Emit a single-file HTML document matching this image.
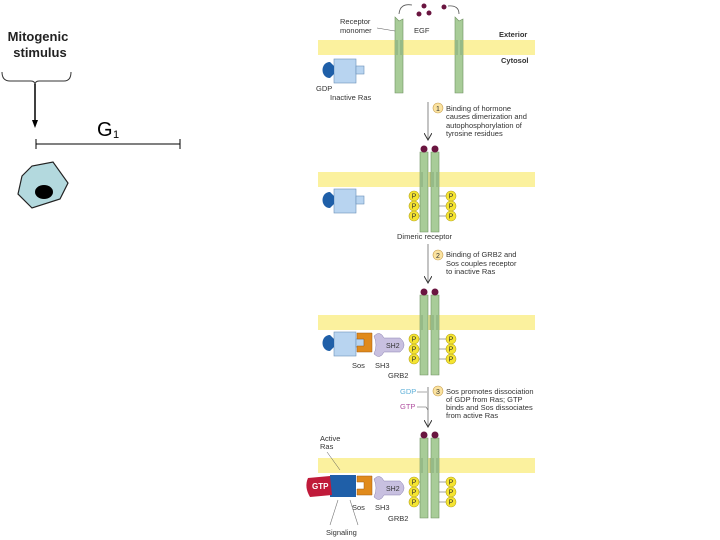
<!DOCTYPE html>
<html><head><meta charset="utf-8"><style>
body{margin:0;background:#fff;width:720px;height:540px;overflow:hidden}
svg{display:block}
text{font-family:"Liberation Sans",sans-serif}
</style></head><body>
<svg width="720" height="540" viewBox="0 0 720 540" xmlns="http://www.w3.org/2000/svg">
<defs>
<marker id="ah" markerWidth="8" markerHeight="8" refX="7" refY="4" orient="auto" markerUnits="userSpaceOnUse"><path d="M0,0 L7,4 L0,8" fill="none" stroke="#333" stroke-width="1"/></marker>
<g id="P"><circle r="5" fill="#f5e431" stroke="#b8a820" stroke-width="0.6"/><text y="2.5" font-size="7" text-anchor="middle" fill="#333">P</text></g>
<g id="dimer">
  <path d="M-8,-20 L-8,60 L0,60 L0,-20 Z M3,-20 L3,60 L11,60 L11,-20 Z" fill="#a8cc98" stroke="#6e9060" stroke-width="0.6"/>
  <path d="M-6,0 L-6,15 M2,0 L2,15 M5,0 L5,15 M9,0 L9,15" stroke="#6e9060" stroke-width="0.6"/>
  <circle cx="-4" cy="-23" r="3.5" fill="#6a1540"/><circle cx="7" cy="-23" r="3.5" fill="#6a1540"/>
  <line x1="-16" y1="24" x2="-8" y2="24" stroke="#666" stroke-width="0.6"/><line x1="-16" y1="34" x2="-8" y2="34" stroke="#666" stroke-width="0.6"/><line x1="-16" y1="44" x2="-8" y2="44" stroke="#666" stroke-width="0.6"/>
  <line x1="11" y1="24" x2="19" y2="24" stroke="#666" stroke-width="0.6"/><line x1="11" y1="34" x2="19" y2="34" stroke="#666" stroke-width="0.6"/><line x1="11" y1="44" x2="19" y2="44" stroke="#666" stroke-width="0.6"/>
  <use href="#P" x="-14" y="24"/><use href="#P" x="-14" y="34"/><use href="#P" x="-14" y="44"/>
  <use href="#P" x="23" y="24"/><use href="#P" x="23" y="34"/><use href="#P" x="23" y="44"/>
</g>
<g id="ras"><rect x="8" y="-7" width="22" height="24" fill="#b8d4f0" stroke="#6b8fb8" stroke-width="0.6"/><rect x="30" y="0" width="8" height="8" fill="#b8d4f0" stroke="#6b8fb8" stroke-width="0.6"/><path d="M4,-4 C-6,-4 -6,12 4,12 L8,8 L8,0 Z" fill="#1f5fa8"/></g>
</defs>

<text x="38" y="41" font-size="13" text-anchor="middle" font-weight="bold" fill="#222">Mitogenic</text>
<text x="40" y="57" font-size="13" text-anchor="middle" font-weight="bold" fill="#222">stimulus</text>
<path d="M2,72 Q2,81 10,81 L31,81 Q35,81 35,85 Q35,81 39,81 L64,81 Q71,81 71,72" fill="none" stroke="#333" stroke-width="1"/>
<line x1="35" y1="84" x2="35" y2="122" stroke="#000" stroke-width="1.5"/>
<path d="M32,120 L35,128 L38,120 Z" fill="#000"/>
<text x="97" y="136" font-size="20" fill="#000">G</text><text x="113" y="138" font-size="11" fill="#000">1</text>
<line x1="36" y1="144" x2="180" y2="144" stroke="#000" stroke-width="1"/>
<line x1="36" y1="139" x2="36" y2="149" stroke="#000"/><line x1="180" y1="139" x2="180" y2="149" stroke="#000"/>
<path d="M22,176 L32,166 L53,162 L68,183 L60,199 L32,208 L18,194 Z" fill="#b3d9de" stroke="#222" stroke-width="1.2"/>
<ellipse cx="44" cy="192" rx="9" ry="7" fill="#000"/>

<rect x="318" y="40" width="217" height="15" fill="#fbf19e"/>
<rect x="318" y="172" width="217" height="15" fill="#fbf19e"/>
<rect x="318" y="315" width="217" height="15" fill="#fbf19e"/>
<rect x="318" y="458" width="217" height="15" fill="#fbf19e"/>

<path d="M395,17 L395,93 L403,93 L403,19 L399,21 Z" fill="#a8cc98" stroke="#6e9060" stroke-width="0.6"/>
<path d="M455,17 L455,93 L463,93 L463,19 L459,21 Z" fill="#a8cc98" stroke="#6e9060" stroke-width="0.6"/>
<path d="M397,40 L397,55 M401,40 L401,55 M457,40 L457,55 M461,40 L461,55" stroke="#6e9060" stroke-width="0.6"/>
<circle cx="429" cy="13" r="2.5" fill="#6a1540"/><circle cx="444" cy="7" r="2.5" fill="#6a1540"/><circle cx="424" cy="6" r="2.5" fill="#6a1540"/><circle cx="419" cy="14" r="2.5" fill="#6a1540"/>
<path d="M412,5 Q400,3 399,14" fill="none" stroke="#555" stroke-width="0.8"/><path d="M448,6 Q459,5 459,14" fill="none" stroke="#555" stroke-width="0.8"/>
<text x="340" y="24" font-size="7.5" fill="#333">Receptor</text><text x="340" y="33" font-size="7.5" fill="#333">monomer</text>
<line x1="377" y1="28" x2="395" y2="31" stroke="#555" stroke-width="0.5"/>
<text x="414" y="33" font-size="7.5" fill="#333">EGF</text>
<text x="499" y="37" font-size="7.5" font-weight="bold" fill="#333">Exterior</text>
<text x="501" y="63" font-size="7.5" font-weight="bold" fill="#333">Cytosol</text>
<use href="#ras" x="326" y="66"/>
<text x="316" y="91" font-size="7.5" fill="#333">GDP</text><text x="330" y="100" font-size="7.5" fill="#333">Inactive Ras</text>

<line x1="428" y1="102" x2="428" y2="140" stroke="#555" stroke-width="0.7" marker-end="url(#ah)"/>
<circle cx="438" cy="108" r="5" fill="#fbe3a0" stroke="#c9a050" stroke-width="0.6"/><text x="438" y="111" font-size="7" text-anchor="middle" fill="#333">1</text>
<text font-size="7.5" fill="#333"><tspan x="446" y="111">Binding of hormone</tspan><tspan x="446" y="119">causes dimerization and</tspan><tspan x="446" y="128">autophosphorylation of</tspan><tspan x="446" y="136">tyrosine residues</tspan></text>

<use href="#dimer" x="428" y="172"/>
<use href="#ras" x="326" y="196"/>
<text x="397" y="239" font-size="7.5" fill="#333">Dimeric receptor</text>
<line x1="428" y1="244" x2="428" y2="283" stroke="#555" stroke-width="0.7" marker-end="url(#ah)"/>
<circle cx="438" cy="255" r="5" fill="#fbe3a0" stroke="#c9a050" stroke-width="0.6"/><text x="438" y="258" font-size="7" text-anchor="middle" fill="#333">2</text>
<text font-size="7.5" fill="#333"><tspan x="446" y="257">Binding of GRB2 and</tspan><tspan x="446" y="266">Sos couples receptor</tspan><tspan x="446" y="274">to inactive Ras</tspan></text>

<use href="#dimer" x="428" y="315"/>
<use href="#ras" x="326" y="339"/>
<path d="M357,333 L372,333 L372,352 L357,352 L357,346 L364,346 L364,339 L357,339 Z" fill="#e08a1c" stroke="#a05a10" stroke-width="0.5"/>
<path d="M374,336 Q380,330 384,338 L400,338 Q408,345 400,352 L384,352 Q380,360 374,354 Q378,345 374,336 Z" fill="#c8c0e0" stroke="#8a80b0" stroke-width="0.5"/>
<text x="386" y="348" font-size="7" fill="#333">SH2</text>
<text x="352" y="368" font-size="7.5" fill="#333">Sos</text><text x="375" y="368" font-size="7.5" fill="#333">SH3</text><text x="388" y="378" font-size="7.5" fill="#333">GRB2</text>
<line x1="428" y1="387" x2="428" y2="427" stroke="#555" stroke-width="0.7" marker-end="url(#ah)"/>
<text x="400" y="394" font-size="7.5" fill="#5fb0d8">GDP</text><text x="400" y="409" font-size="7.5" fill="#b050a0">GTP</text>
<path d="M417,392 L427,392 M417,407 L426,407 L428,410" fill="none" stroke="#555" stroke-width="0.6"/>
<circle cx="438" cy="391" r="5" fill="#fbe3a0" stroke="#c9a050" stroke-width="0.6"/><text x="438" y="394" font-size="7" text-anchor="middle" fill="#333">3</text>
<text font-size="7.5" fill="#333"><tspan x="446" y="394">Sos promotes dissociation</tspan><tspan x="446" y="402">of GDP from Ras; GTP</tspan><tspan x="446" y="410">binds and Sos dissociates</tspan><tspan x="446" y="418">from active Ras</tspan></text>

<use href="#dimer" x="428" y="458"/>
<rect x="330" y="475" width="26" height="22" fill="#1f5fa8"/>
<path d="M308,478 L330,476 L332,495 L310,497 Q304,487 308,478 Z" fill="#c01a3a"/>
<text x="312" y="489" font-size="8" font-weight="bold" fill="#fff">GTP</text>
<path d="M357,476 L372,476 L372,495 L357,495 L357,489 L364,489 L364,482 L357,482 Z" fill="#e08a1c" stroke="#a05a10" stroke-width="0.5"/>
<path d="M374,479 Q380,473 384,481 L400,481 Q408,488 400,495 L384,495 Q380,503 374,497 Q378,488 374,479 Z" fill="#c8c0e0" stroke="#8a80b0" stroke-width="0.5"/>
<text x="386" y="491" font-size="7" fill="#333">SH2</text>
<text x="320" y="441" font-size="7.5" fill="#333">Active</text><text x="320" y="449" font-size="7.5" fill="#333">Ras</text>
<line x1="327" y1="452" x2="340" y2="470" stroke="#555" stroke-width="0.5"/>
<text x="352" y="510" font-size="7.5" fill="#333">Sos</text><text x="375" y="510" font-size="7.5" fill="#333">SH3</text><text x="388" y="521" font-size="7.5" fill="#333">GRB2</text>
<line x1="338" y1="500" x2="330" y2="525" stroke="#777" stroke-width="0.6"/><line x1="350" y1="500" x2="358" y2="525" stroke="#777" stroke-width="0.6"/>
<text x="326" y="535" font-size="7.5" fill="#333">Signaling</text>
</svg>
</body></html>
